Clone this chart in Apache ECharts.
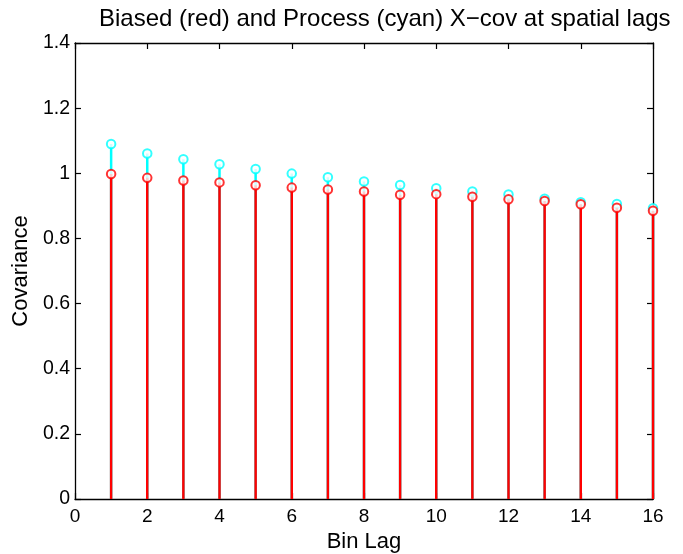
<!DOCTYPE html>
<html>
<head>
<meta charset="utf-8">
<script src="https://cdn.jsdelivr.net/npm/echarts@6/dist/echarts.min.js"></script>
<style>html,body{margin:0;padding:0;background:#fff;}#c{width:683px;height:554px;}</style>
</head>
<body>
<div id="c"></div>
<script>
var lags = [1,2,3,4,5,6,7,8,9,10,11,12,13,14,15,16];
var processCov = [1.090,1.061,1.043,1.028,1.013,0.999,0.988,0.975,0.964,0.954,0.944,0.935,0.922,0.911,0.906,0.893];
var biasedCov  = [0.998,0.986,0.978,0.972,0.963,0.956,0.950,0.944,0.934,0.936,0.928,0.920,0.915,0.905,0.894,0.885];
var xTicks = [0,2,4,6,8,10,12,14,16];
var yTicks = ['0','0.2','0.4','0.6','0.8','1','1.2','1.4'];

function pairs(vals){ return lags.map(function(l,i){ return [l, vals[i]]; }); }
function stemSeries(vals, color, z){
  return {
    type:'custom',
    data: pairs(vals),
    encode:{x:0,y:1},
    silent:true,
    z:z,
    renderItem:function(params, api){
      var p0 = api.coord([api.value(0), 0]);
      var p1 = api.coord([api.value(0), api.value(1)]);
      return {type:'line', shape:{x1:p0[0],y1:p0[1],x2:p1[0],y2:p1[1]}, style:{stroke:color, lineWidth:2.5}};
    }
  };
}
function markerSeries(vals, color, z){
  return {
    type:'scatter', data: pairs(vals), symbol:'emptyCircle', symbolSize:8.5,
    itemStyle:{color:color, borderColor:color, borderWidth:2.6}, z:z, silent:true
  };
}
var font = 'Liberation Sans, Arial, Helvetica, sans-serif';
var axisLineStyle = {show:true, onZero:false, lineStyle:{color:'#000', width:1.3}};
var tickStyle = {show:true, inside:true, length:6, lineStyle:{color:'#000', width:1.2}};
var chart = echarts.init(document.getElementById('c'), null, {renderer:'canvas'});
chart.setOption({
  animation:false,
  backgroundColor:'#fff',
  title:{text:'Biased (red) and Process (cyan) X\u2212cov at spatial lags', left:94, top:2,
    textStyle:{fontFamily:font, fontSize:24, fontWeight:'normal', color:'#000'}},
  grid:{left:75, right:30, top:43, bottom:55, outerBoundsMode:'none', containLabel:false},
  xAxis:[{
    type:'value', min:0, max:16, interval:2, position:'bottom',
    name:'Bin Lag', nameLocation:'middle', nameGap:27,
    nameTextStyle:{fontFamily:font, fontSize:22, color:'#000'},
    axisLine:axisLineStyle, axisTick:tickStyle,
    axisLabel:{fontFamily:font, fontSize:19, color:'#000', margin:8,
      formatter:function(v){ return xTicks.indexOf(v) >= 0 ? String(v) : ''; }},
    splitLine:{show:false}
  },{
    type:'value', min:0, max:16, interval:2, position:'top',
    axisLine:axisLineStyle, axisTick:tickStyle,
    axisLabel:{show:false}, splitLine:{show:false}
  }],
  yAxis:[{
    type:'value', min:0, max:1.4, interval:0.2, position:'left',
    name:'Covariance', nameLocation:'middle', nameGap:41,
    nameTextStyle:{fontFamily:font, fontSize:22, color:'#000'},
    axisLine:axisLineStyle, axisTick:tickStyle,
    axisLabel:{fontFamily:font, fontSize:19.5, color:'#000', margin:5,
      formatter:function(v){ var s = String(Math.round(v*10)/10); return yTicks.indexOf(s) >= 0 ? s : ''; }},
    splitLine:{show:false}
  },{
    type:'value', min:0, max:1.4, interval:0.2, position:'right',
    axisLine:axisLineStyle, axisTick:tickStyle,
    axisLabel:{show:false}, splitLine:{show:false}
  }],
  series:[
    stemSeries(processCov, '#00ffff', 2),
    markerSeries(processCov, '#00ffff', 3),
    stemSeries(biasedCov, '#ff0000', 4),
    markerSeries(biasedCov, '#ff0000', 5)
  ]
});
</script>
</body>
</html>
